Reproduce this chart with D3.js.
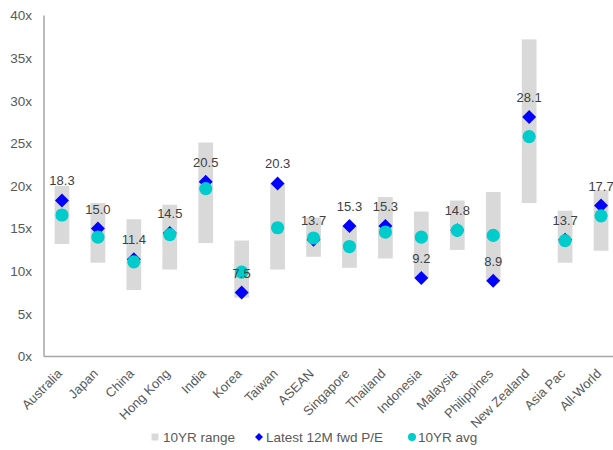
<!DOCTYPE html>
<html>
<head>
<meta charset="utf-8">
<script src="https://cdn.jsdelivr.net/npm/d3@7"></script>
<style>
  html, body { margin: 0; padding: 0; background: #fff; }
  svg { display: block; font-family: "Liberation Sans", Arial, sans-serif; }
</style>
</head>
<body>
<svg id="chart" width="613" height="450"></svg>
<script>
// Markets shown along the x axis
const markets = ["Australia", "Japan", "China", "Hong Kong", "India", "Korea", "Taiwan", "ASEAN",
  "Singapore", "Thailand", "Indonesia", "Malaysia", "Philippines", "New Zealand", "Asia Pac", "All-World"];

// 10-year P/E range (low / high)
const rangeLow  = [13.2, 11.0, 7.8, 10.2, 13.3, 6.9, 10.2, 11.7, 10.4, 11.5, 9.2, 12.5, 8.9, 18.0, 11.0, 12.4];
const rangeHigh = [20.0, 18.0, 16.1, 17.8, 25.1, 13.6, 20.3, 16.3, 15.3, 18.7, 17.0, 18.3, 19.3, 37.2, 17.1, 19.5];

// Latest 12M forward P/E
const latestPE = [18.3, 15.0, 11.4, 14.5, 20.5, 7.5, 20.3, 13.7, 15.3, 15.3, 9.2, 14.8, 8.9, 28.1, 13.7, 17.7];

// 10-year average P/E
const avgPE = [16.6, 14.0, 11.1, 14.3, 19.7, 9.9, 15.1, 13.9, 12.9, 14.6, 14.0, 14.8, 14.2, 25.8, 13.6, 16.5];

// Y axis ticks
const yTicks = [0, 5, 10, 15, 20, 25, 30, 35, 40];

// Legend entries
const legendLabels = ["10YR range", "Latest 12M fwd P/E", "10YR avg"];

const COLORS = { range: "#d9d9d9", latest: "#0000ff", avg: "#00cccc", text: "#595959", axis: "#a6a6a6" };

const svg = d3.select("#chart");
const plot = { left: 44, right: 619, top: 15.5, bottom: 356.5 };

const x = d3.scaleBand().domain(markets).range([plot.left, plot.right]).padding(0);
const y = d3.scaleLinear().domain([0, 40]).range([plot.bottom, plot.top]);

const rows = markets.map((m, i) => ({
  m, lo: rangeLow[i], hi: rangeHigh[i], pe: latestPE[i], avg: avgPE[i]
}));
const cx = d => x(d.m) + x.bandwidth() / 2;

// Y tick labels
const yAxis = d3.axisLeft(y).tickValues(yTicks).tickFormat(d => d + "x").tickSize(0).tickPadding(12);
const gy = svg.append("g").attr("transform", `translate(${plot.left},0)`).call(yAxis);
gy.select(".domain").remove();
gy.selectAll("text").attr("fill", COLORS.text).style("font-size", "13.5px")
  .style("font-family", "'Liberation Sans', Arial, sans-serif");

// Range bars
const barW = x.bandwidth() * 0.41;
svg.append("g").selectAll("rect").data(rows).join("rect")
  .attr("x", d => cx(d) - barW / 2)
  .attr("y", d => y(d.hi))
  .attr("width", barW)
  .attr("height", d => y(d.lo) - y(d.hi))
  .attr("fill", COLORS.range);

// Axis lines
svg.append("line").attr("x1", plot.left).attr("x2", plot.left).attr("y1", plot.top)
  .attr("y2", plot.bottom).attr("stroke", COLORS.axis).attr("stroke-width", 1.5);
svg.append("line").attr("x1", plot.left).attr("x2", plot.right).attr("y1", plot.bottom)
  .attr("y2", plot.bottom).attr("stroke", COLORS.axis).attr("stroke-width", 1.5);

// Latest P/E diamonds
const diamond = d3.symbol().type(d3.symbolSquare).size(98);
svg.append("g").selectAll("path").data(rows).join("path")
  .attr("d", diamond)
  .attr("transform", d => `translate(${cx(d)},${y(d.pe)}) rotate(45)`)
  .attr("fill", COLORS.latest);

// 10YR average circles
svg.append("g").selectAll("circle").data(rows).join("circle")
  .attr("cx", cx).attr("cy", d => y(d.avg)).attr("r", 6.6)
  .attr("fill", COLORS.avg);

// Value labels above the diamonds
svg.append("g").selectAll("text").data(rows).join("text")
  .attr("x", cx).attr("y", d => y(d.pe) - 15)
  .attr("text-anchor", "middle")
  .attr("fill", "#404040")
  .style("font-size", "13px")
  .text(d => d.pe.toFixed(1));

// Category labels, rotated
const xAxis = d3.axisBottom(x).tickSize(0).tickPadding(0);
const gx = svg.append("g").attr("transform", `translate(0,${plot.bottom})`).call(xAxis);
gx.select(".domain").remove();
gx.selectAll("text")
  .attr("fill", COLORS.text)
  .style("font-size", "13px")
  .style("font-family", "'Liberation Sans', Arial, sans-serif")
  .attr("text-anchor", "end")
  .attr("dy", 0)
  .attr("transform", "translate(1,18) rotate(-45)");

// Legend
const legendY = 437;
const legendX = [151.5, 254, 408];
const lg = svg.append("g");
legendLabels.forEach((label, i) => {
  const g = lg.append("g").attr("transform", `translate(${legendX[i]},${legendY})`);
  if (i === 0) {
    g.append("rect").attr("x", 0).attr("y", -3.5).attr("width", 7).attr("height", 7).attr("fill", COLORS.range);
  } else if (i === 1) {
    g.append("path").attr("d", d3.symbol().type(d3.symbolSquare).size(32)())
      .attr("transform", "translate(5,0) rotate(45)").attr("fill", COLORS.latest);
  } else {
    g.append("circle").attr("cx", 4).attr("cy", 0).attr("r", 4).attr("fill", COLORS.avg);
  }
  g.append("text").attr("x", i === 0 ? 11.5 : (i === 1 ? 12 : 10)).attr("y", 5)
    .attr("fill", COLORS.text).style("font-size", "13.5px").text(label);
});
</script>
</body>
</html>
